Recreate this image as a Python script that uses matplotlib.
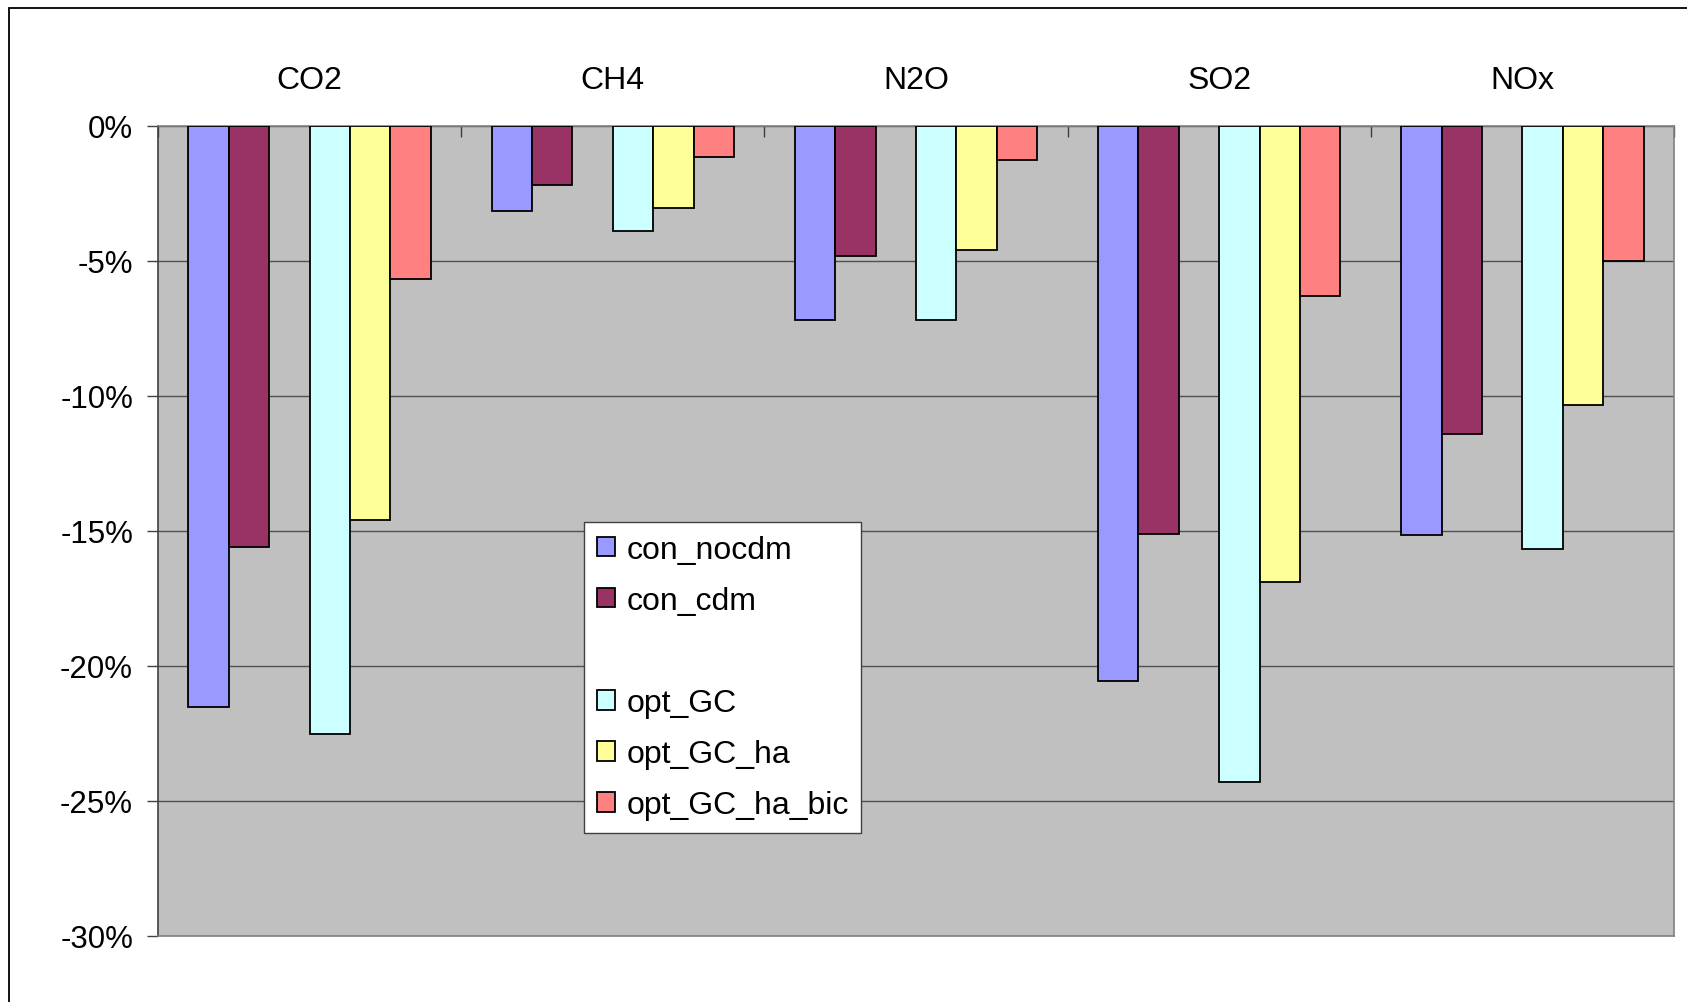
import numpy as np
import matplotlib.pyplot as plt
from matplotlib.patches import Patch, Rectangle

plt.rcParams['font.family'] = ['Liberation Sans', 'DejaVu Sans']

# data (% change)
gases = ['CO2', 'CH4', 'N2O', 'SO2', 'NOx']
con_nocdm = [-21.5, -3.15, -7.2, -20.55, -15.15]
con_cdm = [-15.6, -2.2, -4.8, -15.1, -11.4]
opt_GC = [-22.5, -3.9, -7.2, -24.3, -15.65]
opt_GC_ha = [-14.6, -3.05, -4.6, -16.9, -10.35]
opt_GC_ha_bic = [-5.65, -1.15, -1.25, -6.3, -5.0]

series = [
    ('con_nocdm', con_nocdm, '#9999FF'),
    ('con_cdm', con_cdm, '#993366'),
    (' ', None, None),  # empty series in the original workbook
    ('opt_GC', opt_GC, '#CCFFFF'),
    ('opt_GC_ha', opt_GC_ha, '#FFFF99'),
    ('opt_GC_ha_bic', opt_GC_ha_bic, '#FF8080'),
]

fig = plt.figure(figsize=(16.87, 10.03), dpi=100)
ax = fig.add_axes([158 / 1687, 1 - 937 / 1003, (1674 - 158) / 1687, 810 / 1003])
ax.set_facecolor('#C0C0C0')

x = np.arange(1, len(gases) + 1)
nslots = len(series)
width = 1 / (nslots + 1.5)  # excel gap width 150%

handles = []
for k, (name, vals, col) in enumerate(series):
    off = (k - (nslots - 1) / 2) * width
    if vals is None:
        handles.append(Patch(facecolor='none', edgecolor='none', label=name))
        continue
    ax.bar(x + off, vals, width, color=col, edgecolor='black', linewidth=1.3, zorder=3)
    handles.append(Patch(facecolor=col, edgecolor='black', linewidth=1.3, label=name))

ax.set_xlim(0.5, len(gases) + 0.5)
ax.set_ylim(-30, 0)
ax.set_yticks(np.arange(-30, 1, 5))
ax.set_yticklabels([f'{v}%' for v in range(-30, 1, 5)], fontsize=22.5)
ax.tick_params(axis='y', direction='out', length=8, width=1, color='#404040', pad=10)

ax.set_axisbelow(True)
ax.yaxis.grid(True, color='#505050', linewidth=1, zorder=0)

# category boundary ticks along the 0% line
ax.xaxis.tick_top()
ax.set_xticks(np.arange(0.5, len(gases) + 1, 1))
ax.set_xticklabels([])
ax.tick_params(axis='x', direction='in', length=8, width=1, color='#404040')
for xi, g in zip(x, gases):
    ax.text(xi, 1.057, g, transform=ax.get_xaxis_transform(), ha='center', va='center', fontsize=23)

for s in ax.spines.values():
    s.set_color('#808080')
    s.set_linewidth(1.2)
ax.spines['left'].set_color('#404040')

leg = ax.legend(handles=handles, loc='upper left', bbox_to_anchor=(584 / 1687, 1 - 523 / 1003),
                bbox_transform=fig.transFigure, fontsize=23, frameon=True, fancybox=False,
                handlelength=0.57, handleheight=0.57, handletextpad=0.35, labelspacing=0.66,
                borderpad=0.4, borderaxespad=0)
leg.get_frame().set_edgecolor('#404040')
leg.get_frame().set_linewidth(1)
leg.get_frame().set_facecolor('white')
leg.get_frame().set_alpha(1)

# outer chart-area border
fig.patches.append(Rectangle((9 / 1687, -0.1), 1.2, 1.1 - 9 / 1003, transform=fig.transFigure,
                             fill=False, edgecolor='black', linewidth=1.3))

fig.savefig('out.png', dpi=100)
